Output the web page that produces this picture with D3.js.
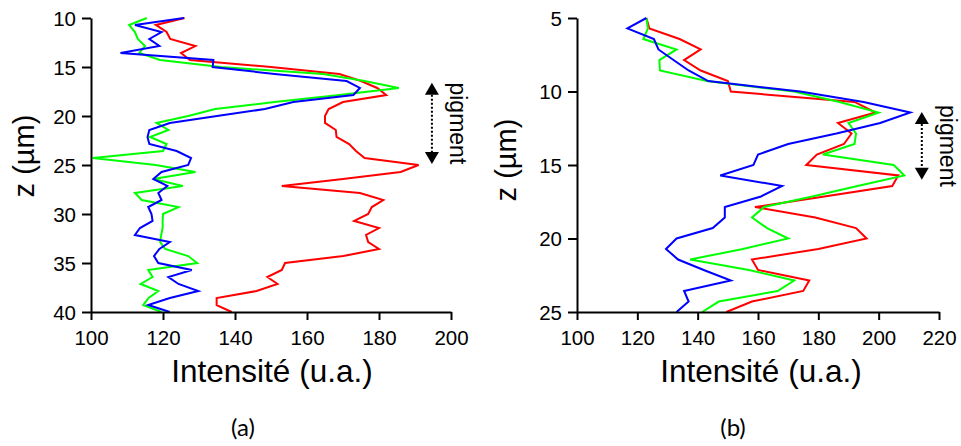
<!DOCTYPE html>
<html><head><meta charset="utf-8">
<script src="https://cdn.jsdelivr.net/npm/d3@7"></script>
<style>
html,body{margin:0;padding:0;background:#fff;}
svg{display:block;}
.tick text{font-family:"Liberation Sans",Arial,sans-serif;}
</style></head>
<body>
<svg id="chart" width="961" height="446"></svg>
<script>
// ---- Panel (a) data ----
const zA = [10, 10.71, 11.43, 12.14, 12.86, 13.57, 14.29, 15, 15.71, 16.43, 17.14, 17.86, 18.57, 19.29, 20, 20.71, 21.43, 22.14, 22.86, 23.57, 24.29, 25, 25.71, 26.43, 27.14, 27.86, 28.57, 29.29, 30, 30.71, 31.43, 32.14, 32.86, 33.57, 34.29, 35, 35.71, 36.43, 37.14, 37.86, 38.57, 39.29, 40];
const redA = [126,118,121,122,129,125,127.5,150,169,175,179.5,182,170,166,165,165,168,168.2,171.7,173.6,176,191,186,170,153,174.7,181.2,178,177,173.1,180,176.4,177,180,170.1,153.9,153,149,151.8,146,134.9,134.9,139.1];
const greenA = [115.5,110.6,112.2,113,115,113.4,119.2,136,164.5,176,185.5,169,151,134.5,127,118.2,121.5,116.4,121,120,100.5,118,129,117.3,125.5,112.2,114.1,124.3,120,119.9,119.9,119.5,119.2,120.6,127,129.5,115.9,117.1,113.8,118.7,116,114.5,119.6];
const blueA = [125.8,112.2,119.6,116.2,119,108.2,134,133.8,151,171,174.7,172.9,156.2,148.3,135,121.9,116.2,115.7,116.2,123.8,127.8,127,119.6,117.3,121.2,118.7,119.6,115.9,116.8,117.1,113.6,112.2,121.9,119,117.5,118.7,128,121.5,124.3,129.8,121.9,115.9,121.9];
const xTicksA = [100,120,140,160,180,200];
const yTicksA = [10,15,20,25,30,35,40];
const pigmentA = {x: 194.7, z0: 16.6, z1: 24.9};

// ---- Panel (b) data ----
const zB = [5, 5.71, 6.43, 7.14, 7.86, 8.57, 9.29, 10, 10.71, 11.43, 12.14, 12.86, 13.57, 14.29, 15, 15.71, 16.43, 17.14, 17.86, 18.57, 19.29, 20, 20.71, 21.43, 22.14, 22.86, 23.57, 24.29, 25];
const redB = [123,124,134,141,135.5,141,150,151,192,199,186.5,191,188.5,179.5,176,206.5,204.5,182,159,179,192.5,196,180,158,160,177,175,158,149.5];
const greenB = [123,123.5,122,133,127.3,127.5,143,172,187,200,190,192.5,192,181.5,205,208.5,193,178,162,158,163,170,155,137.5,157,172,166.5,147,141.5];
const blueB = [123,116.7,125.5,127,132,137,143.5,174,195,210.5,200.5,186,170,160,158.5,147.5,168,161,149,149,145,133,129.5,133.5,142,151,135.5,137,133];
const xTicksB = [100,120,140,160,180,200,220];
const yTicksB = [5,10,15,20,25];
const pigmentB = {x: 214.3, z0: 11.4, z1: 16.0};

const xTitle = "Intensité (u.a.)";
const yTitle = "z (µm)";
const colors = {red:"#ff0000", green:"#00ff00", blue:"#0000ff"};

const svg = d3.select("#chart");
svg.append("rect").attr("width",961).attr("height",446).attr("fill","#fff");

function panel(cfg){
  const g = svg.append("g");
  const x = d3.scaleLinear().domain(cfg.xDomain).range(cfg.xRange);
  const y = d3.scaleLinear().domain(cfg.yDomain).range(cfg.yRange);

  const line = d3.line().x(d=>x(d[0])).y(d=>y(d[1]));
  const series = [
    {v:cfg.red, c:colors.red},
    {v:cfg.green, c:colors.green},
    {v:cfg.blue, c:colors.blue}
  ];
  series.forEach(s=>{
    g.append("path")
      .datum(s.v.map((v,i)=>[v,cfg.z[i]]))
      .attr("fill","none").attr("stroke",s.c).attr("stroke-width",2)
      .attr("stroke-linejoin","miter")
      .attr("d",line);
  });

  const xAxis = g.append("g").attr("transform",`translate(0,${cfg.yRange[1]})`)
    .call(d3.axisBottom(x).tickValues(cfg.xTicks).tickSize(8).tickSizeOuter(0).tickPadding(10));
  const yAxis = g.append("g").attr("transform",`translate(${cfg.xRange[0]},0)`)
    .call(d3.axisLeft(y).tickValues(cfg.yTicks).tickSize(9).tickSizeOuter(0).tickPadding(6));
  [xAxis,yAxis].forEach(a=>{
    a.select(".domain").attr("stroke","#000").attr("stroke-width",2);
    a.selectAll(".tick line").attr("stroke","#000").attr("stroke-width",2);
    a.selectAll(".tick text").attr("fill","#000").attr("font-size",20.5)
      .attr("font-family","'Liberation Sans', Arial, sans-serif");
  });
  yAxis.selectAll(".tick text").attr("dy","0.36em");

  // titles
  g.append("text").attr("x",cfg.xTitleX).attr("y",381.5)
    .attr("text-anchor","middle").attr("font-size",31.5)
    .attr("font-family","'Liberation Sans', Arial, sans-serif").attr("fill","#000")
    .text(xTitle);
  g.append("text").attr("transform",`translate(${cfg.yTitleX},${cfg.yTitleY}) rotate(-90)`)
    .attr("text-anchor","middle").attr("font-size",29)
    .attr("font-family","'Liberation Sans', Arial, sans-serif").attr("fill","#000")
    .text(yTitle);
  g.append("text").attr("x",cfg.labelX).attr("y",436)
    .attr("text-anchor","middle").attr("font-size",24)
    .attr("font-family","Lato, 'Open Sans', sans-serif").attr("fill","#000")
    .text(cfg.label);

  // pigment arrow
  const px = x(cfg.pig.x), t0 = y(cfg.pig.z0), t1 = y(cfg.pig.z1);
  const ah = 12, aw = 7;
  g.append("line").attr("x1",px).attr("x2",px).attr("y1",t0+ah).attr("y2",t1-ah)
    .attr("stroke","#000").attr("stroke-width",2).attr("stroke-dasharray","2,2");
  g.append("path").attr("d",`M${px},${t0} L${px-aw},${t0+ah} L${px+aw},${t0+ah} Z`).attr("fill","#000");
  g.append("path").attr("d",`M${px},${t1} L${px-aw},${t1-ah} L${px+aw},${t1-ah} Z`).attr("fill","#000");
  g.append("text").attr("transform",`translate(${px+cfg.pigDx},${(t0+t1)/2}) rotate(90)`)
    .attr("text-anchor","middle").attr("font-size",23)
    .attr("font-family","'Liberation Sans', Arial, sans-serif").attr("fill","#000")
    .text("pigment");
}

panel({
  xDomain:[100,200], xRange:[91,451], yDomain:[10,40], yRange:[18,312],
  z:zA, red:redA, green:greenA, blue:blueA, xTicks:xTicksA, yTicks:yTicksA,
  xTitleX:272, yTitleX:34, yTitleY:156, labelX:243, label:"(a)", pig:pigmentA, pigDx:18
});
panel({
  xDomain:[100,220], xRange:[577,939], yDomain:[5,25], yRange:[18,312],
  z:zB, red:redB, green:greenB, blue:blueB, xTicks:xTicksB, yTicks:yTicksB,
  xTitleX:761, yTitleX:515.5, yTitleY:160, labelX:733, label:"(b)", pig:pigmentB, pigDx:18
});
</script>
</body></html>
